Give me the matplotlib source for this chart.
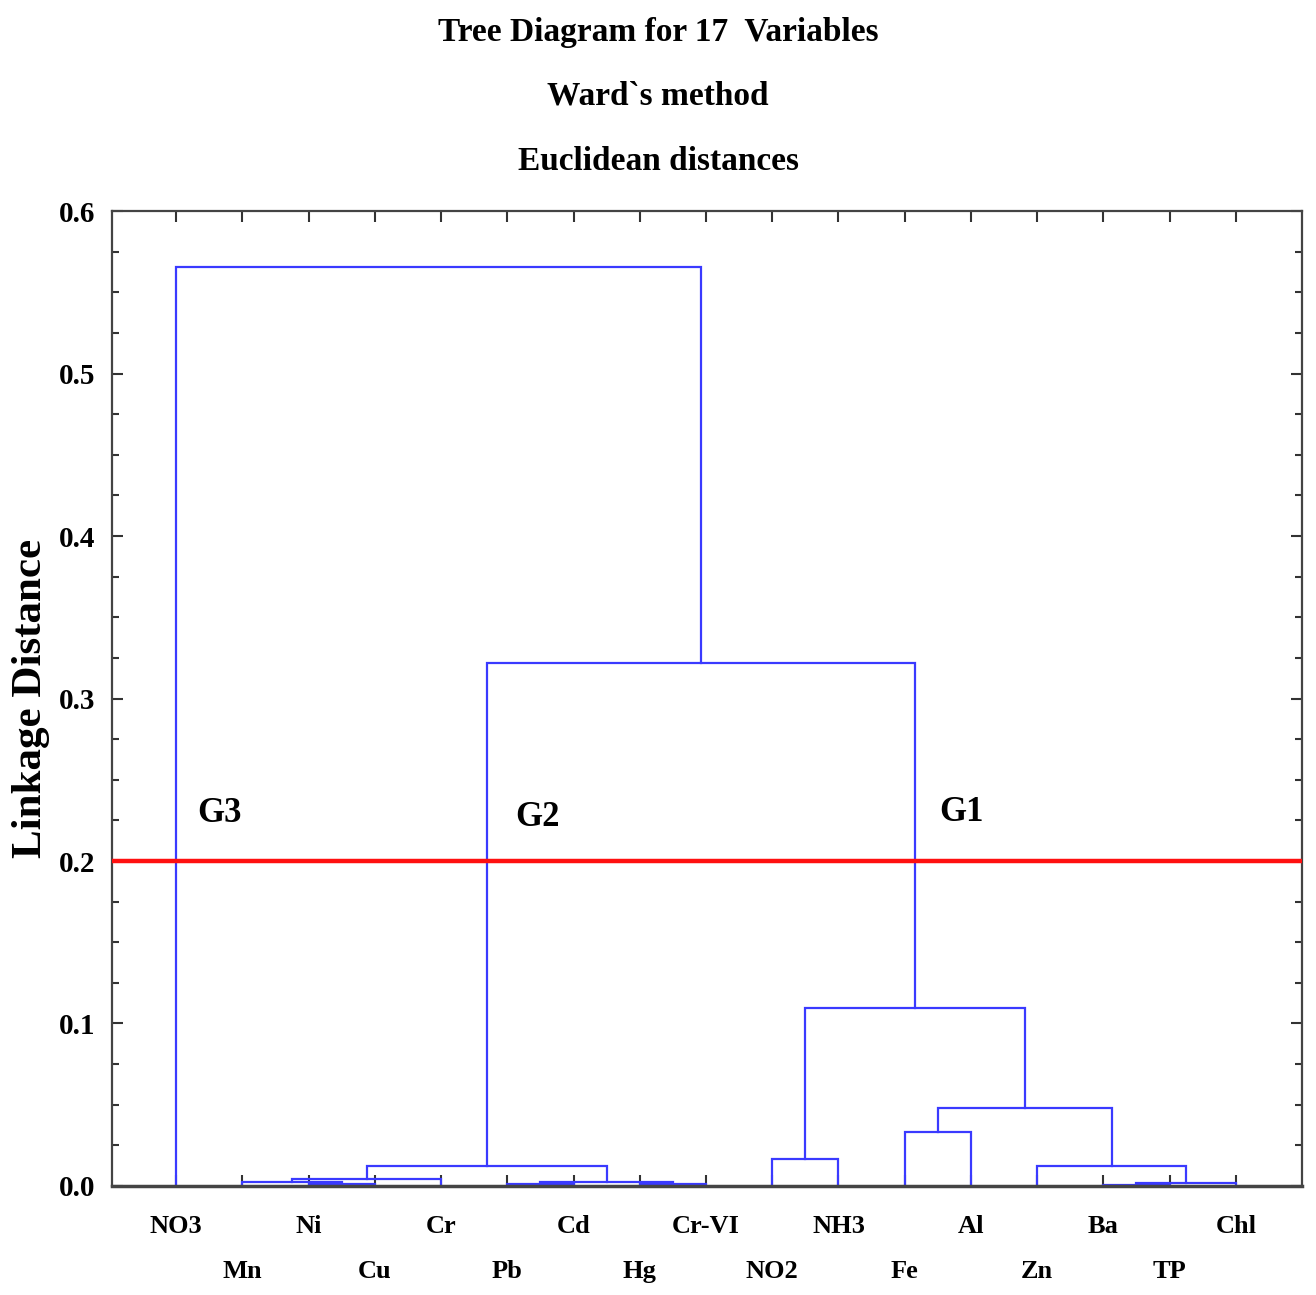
import numpy as np
import matplotlib
matplotlib.use('Agg')
import matplotlib.pyplot as plt
from matplotlib.ticker import MultipleLocator

plt.rcParams['font.family'] = ['Liberation Serif', 'DejaVu Serif']
plt.rcParams['font.weight'] = 'bold'

# leaf order as drawn
labels = ['NO3', 'Mn', 'Ni', 'Cu', 'Cr', 'Pb', 'Cd', 'Hg', 'Cr-VI',
          'NO2', 'NH3', 'Fe', 'Al', 'Zn', 'Ba', 'TP', 'Chl']

# merges: (left id, right id, linkage distance); new clusters numbered from 17
merge_left = [2, 1, 18, 5, 7, 20, 19, 9, 11, 14, 26, 13, 25, 24, 23, 0]
merge_right = [3, 17, 4, 6, 8, 21, 22, 10, 12, 15, 16, 27, 28, 29, 30, 31]
merge_height = [0.0010, 0.0025, 0.0045, 0.0010, 0.0015, 0.0025, 0.0120,
                0.0166, 0.0330, 0.0008, 0.0020, 0.0123, 0.0480, 0.1095,
                0.3220, 0.5655]

cut_level = 0.2
group_names = ['G3', 'G2', 'G1']
group_x = [0.66, 5.45, 11.86]
group_y = [0.229, 0.227, 0.230]

line_col = '#3a3aff'

fig = plt.figure(figsize=(13.16, 12.95), dpi=100)
ax = fig.add_axes([0.0851, 0.0842, 0.9043, 0.7528])

# position and height of every node
pos = {i: float(i) for i in range(len(labels))}
hgt = {i: 0.0 for i in range(len(labels))}
n = len(labels)
for k, (a, b, h) in enumerate(zip(merge_left, merge_right, merge_height)):
    xa, xb = pos[a], pos[b]
    ax.plot([xa, xa, xb, xb], [hgt[a], h, h, hgt[b]], color=line_col, lw=1.6,
            solid_joinstyle='miter', zorder=2)
    pos[n + k] = (xa + xb) / 2
    hgt[n + k] = h

ax.axhline(cut_level, color='#ff1010', lw=3.2, zorder=3)

for name, gx, gy in zip(group_names, group_x, group_y):
    ax.text(gx, gy, name, fontsize=25, fontweight='bold', ha='center', va='center')

ax.set_xlim(-0.97, 17.0)
ax.set_ylim(0, 0.6)
ax.set_xticks(range(len(labels)))
ax.set_xticklabels(labels, fontsize=19, fontweight='bold')
for i, t in enumerate(ax.xaxis.get_major_ticks()):
    t.set_pad(21 if i % 2 == 0 else 53)

ax.yaxis.set_major_locator(MultipleLocator(0.1))
ax.yaxis.set_minor_locator(MultipleLocator(0.025))
ax.set_yticks(np.arange(0, 0.61, 0.1))
ax.set_yticklabels(['%.1f' % v for v in np.arange(0, 0.61, 0.1)], fontsize=21, fontweight='bold')
ax.tick_params(axis='both', which='both', direction='in', top=True, right=True,
               color='#333333', width=1.5)
ax.tick_params(axis='both', which='major', length=8)
ax.tick_params(axis='y', which='minor', length=5)
ax.tick_params(axis='y', which='major', pad=12)

for s in ax.spines.values():
    s.set_color('#444444')
    s.set_linewidth(1.6)
ax.spines['bottom'].set_linewidth(2.5)

ax.set_ylabel('Linkage Distance', fontsize=31, fontweight='bold', labelpad=6)

fig.text(0.5, 1 - 33 / 1295, 'Tree Diagram for 17  Variables', fontsize=24,
         fontweight='bold', ha='center', va='center')
fig.text(0.5, 1 - 96 / 1295, 'Ward`s method', fontsize=24,
         fontweight='bold', ha='center', va='center')
fig.text(0.5, 1 - 161 / 1295, 'Euclidean distances', fontsize=24,
         fontweight='bold', ha='center', va='center')

fig.savefig('out.png', dpi=100)
